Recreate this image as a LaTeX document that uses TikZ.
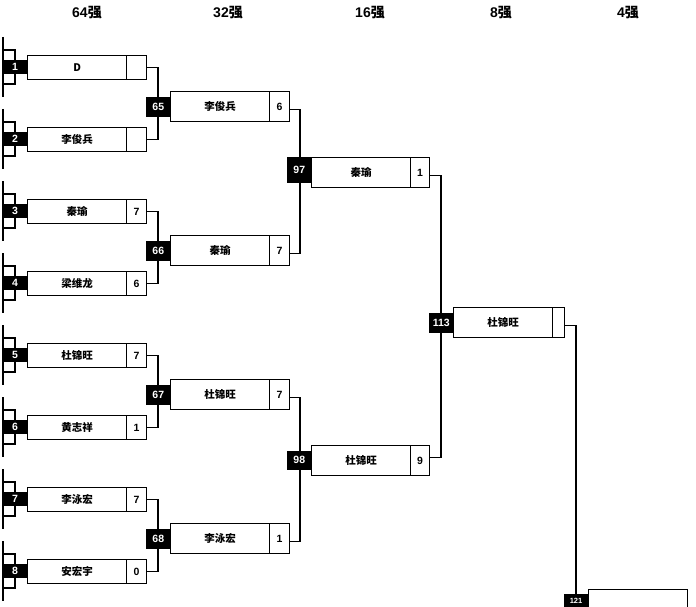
\documentclass[tikz,border=0pt]{standalone}
\usepackage{fontspec}
\setmainfont{Liberation Sans}
\newfontfamily\cjk{Noto Sans CJK SC}
\usetikzlibrary{calc}
\tikzset{
  ln/.style={draw=black, line width=1.3pt},
  blk/.style={fill=black, draw=black, line width=0.5pt, text=white, inner sep=0pt, font=\bfseries\fontsize{10.5}{10}\selectfont},
  namebox/.style={draw=black, line width=1.3pt, fill=white, inner sep=0pt, anchor=north west, minimum width=99, font=\cjk\bfseries\fontsize{10.5}{10}\selectfont},
  scorebox/.style={draw=black, line width=1.3pt, fill=white, inner sep=0pt, anchor=north west, font=\bfseries\fontsize{10.5}{10}\selectfont},
  title/.style={inner sep=0pt, font=\bfseries\fontsize{14}{14}\selectfont},
}
\newcommand{\firstrow}[5]{%
  \coordinate (t#1) at (3,#2-30);
  \coordinate (u#1) at (3,#2+30);
  \coordinate (v#1) at (15,#2-17);
  \coordinate (w#1) at (15,#2+17);
  \draw[ln] (t#1) -- (u#1);
  \draw[ln] (t#1 |- v#1) -- (v#1) -- (w#1) -- (u#1 |- w#1);
  \node[blk, minimum width=24, minimum height=13] (b#1) at (15,#2) {#3};
  \node[namebox, minimum height=24] (n#1) at (27,#2-12) {#4};
  \node[scorebox, minimum width=20, minimum height=24] (s#1) at (126,#2-12) {#5};
}
\newcommand{\laterrow}[9]{%
  \node[blk, anchor=north west, minimum width=24, minimum height=#5] (b#1) at (#2,#4) {#7};
  \node[namebox, minimum height=30] (n#1) at (#2+24,#3) {#8};
  \node[scorebox, minimum width=#6, minimum height=30] (s#1) at (#2+123,#3) {#9};
}
\begin{document}
\begin{tikzpicture}[x=1pt,y=-1pt]
\useasboundingbox (0,0) rectangle (696,607);
\clip (0,0) rectangle (696,607);
\fill[white] (0,0) rectangle (696,607);

% titles
\node[title] (h64) at (87,13) {64{\cjk 强}};
\node[title] (h32) at (228,13) {32{\cjk 强}};
\node[title] (h16) at (370,13) {16{\cjk 强}};
\node[title] (h8) at (501,13) {8{\cjk 强}};
\node[title] (h4) at (628,13) {4{\cjk 强}};

% round of 64
\firstrow{1}{67}{1}{D}{}
\firstrow{2}{139}{2}{李俊兵}{}
\firstrow{3}{211}{3}{秦瑜}{7}
\firstrow{4}{283}{4}{梁维龙}{6}
\firstrow{5}{355}{5}{杜锦旺}{7}
\firstrow{6}{427}{6}{黄志祥}{1}
\firstrow{7}{499}{7}{李泳宏}{7}
\firstrow{8}{571}{8}{安宏宇}{0}

% connectors 64 -> 32
\coordinate (k65) at (158,100);
\coordinate (k66) at (158,244);
\coordinate (k67) at (158,388);
\coordinate (k68) at (158,532);
\draw[ln] (s1.east) -| (k65) |- (s2.east);
\draw[ln] (s3.east) -| (k66) |- (s4.east);
\draw[ln] (s5.east) -| (k67) |- (s6.east);
\draw[ln] (s7.east) -| (k68) |- (s8.east);

\coordinate (k97) at (300,170);
\coordinate (k98) at (300,460);
\coordinate (k113) at (441,322);
\coordinate (k121) at (576,600);

% round of 32
\laterrow{65}{146}{91}{97}{19}{20}{65}{李俊兵}{6}
\laterrow{66}{146}{235}{241}{19}{20}{66}{秦瑜}{7}
\laterrow{67}{146}{379}{385}{19}{20}{67}{杜锦旺}{7}
\laterrow{68}{146}{523}{529}{19}{20}{68}{李泳宏}{1}

\draw[ln] ($(s65.east)+(0,3)$) -| (k97) |- ($(s66.east)+(0,3)$);
\draw[ln] ($(s67.east)+(0,3)$) -| (k98) |- ($(s68.east)+(0,3)$);

% round of 16
\laterrow{97}{287}{157}{157}{25}{19}{97}{秦瑜}{1}
\laterrow{98}{287}{445}{451}{18}{19}{98}{杜锦旺}{9}

\draw[ln] ($(s97.east)+(0,3)$) -| (k113) |- ($(s98.east)+(0,-3)$);

% round of 8
\laterrow{113}{429}{307}{313}{19}{12}{113}{杜锦旺}{}
\draw[ln] ($(s113.east)+(0,3)$) -| (k121);

% round of 4
\fill[black] (564,594) rectangle (588,610);
\node[blk, draw=none, anchor=north, minimum width=24, font=\bfseries\fontsize{7.5}{8}\selectfont, inner ysep=1pt] (b121) at (576,597) {121};
\node[namebox, minimum height=30] (n121) at (588,589) {};
\end{tikzpicture}
\end{document}
